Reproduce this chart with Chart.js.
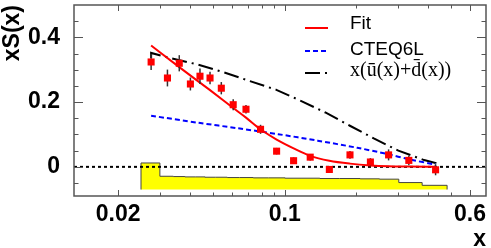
<!DOCTYPE html>
<html>
<head>
<meta charset="utf-8">
<script src="https://cdn.jsdelivr.net/npm/chart.js@4.4.1/dist/chart.umd.min.js"></script>
<style>
html, body { margin: 0; padding: 0; background: #fff; }
#wrap { width: 491px; height: 248px; }
</style>
</head>
<body>
<div id="wrap"><canvas id="chart" width="491" height="248"></canvas></div>
<script>
// axis ranges and ticks
const xMin = 0.01305, xMax = 0.70;
const yMin = -0.09, yMax = 0.5;
const xTickValues = [0.02, 0.1, 0.6];
const xTickLabels = ['0.02', '0.1', '0.6'];
const xMinorTicks = [0.03, 0.04, 0.05, 0.06, 0.07, 0.08, 0.09, 0.2, 0.3, 0.4, 0.5];
const yTickValues = [0, 0.2, 0.4];
const yTickLabels = ['0', '0.2', '0.4'];
const yMinorTicks = [-0.05, 0.05, 0.1, 0.15, 0.25, 0.3, 0.35, 0.45];

// measured points
const dataX = [0.0275, 0.0322, 0.0361, 0.0402, 0.0441, 0.0486, 0.0542, 0.0608, 0.0688, 0.0792,
               0.0925, 0.109, 0.128, 0.154, 0.188, 0.229, 0.273, 0.332, 0.43];
const dataY = [0.324, 0.2745, 0.32, 0.256, 0.28, 0.2745, 0.243, 0.192, 0.178, 0.116,
               0.0485, 0.019, 0.030, -0.008, 0.037, 0.015, 0.037, 0.020, -0.009];
const dataErr = [0.025, 0.026, 0.025, 0.02, 0.024, 0.019, 0.019, 0.017, 0.013, 0.014,
                 0.01, 0.01, 0.01, 0.01, 0.012, 0.012, 0.017, 0.015, 0.017];

// fit curve
const fitX = [0.0275, 0.0361, 0.0486, 0.0608, 0.0688, 0.0792, 0.0925, 0.109, 0.128, 0.154,
              0.188, 0.229, 0.273, 0.332, 0.43];
const fitY = [0.375, 0.308, 0.237, 0.182, 0.152, 0.116, 0.084, 0.057, 0.034, 0.019,
              0.010, 0.0045, 0.002, 0.001, 0.0];

// CTEQ6L
const cteqX = [0.0275, 0.0436, 0.0639, 0.0938, 0.1375, 0.2016, 0.2684, 0.334, 0.43];
const cteqY = [0.158, 0.136, 0.119, 0.101, 0.081, 0.059, 0.040, 0.023, 0.007];

// x(ubar + dbar)
const seaX = [0.0275, 0.0275, 0.0332, 0.0432, 0.0556, 0.0715, 0.0923, 0.1169, 0.1481,
              0.1878, 0.2366, 0.3001, 0.3849, 0.43, 0.43];
const seaY = [0.336, 0.352, 0.336, 0.316, 0.292, 0.265, 0.238, 0.204, 0.168,
              0.127, 0.088, 0.050, 0.021, 0.012, 0.003];

// systematic band
const bandEdges = [0.02494, 0.02993, 0.03408, 0.03813, 0.04212, 0.0463, 0.05131, 0.0574, 0.06467,
                   0.07381, 0.08553, 0.1004, 0.1182, 0.1405, 0.1701, 0.2074, 0.25, 0.3013, 0.3776, 0.4806];
const bandTop = [0.012, -0.029, -0.030, -0.031, -0.031, -0.032, -0.032, -0.033, -0.033, -0.034,
                 -0.034, -0.035, -0.035, -0.036, -0.036, -0.037, -0.038, -0.0485, -0.057];
const bandBottom = -0.07;

const legendLabels = ['Fit', 'CTEQ6L', 'x(u\u0304(x)+d\u0304(x))'];

const xy = (xs, ys) => xs.map((x, i) => ({ x: x, y: ys[i] }));

function bandPoints() {
    const pts = [{ x: bandEdges[0], y: bandBottom }];
    bandTop.forEach((v, i) => pts.push({ x: bandEdges[i], y: v }));
    pts.push({ x: bandEdges[bandEdges.length - 1], y: bandBottom });
    return pts;
}

const errorBars = {
    id: 'errorBars',
    beforeDatasetDraw(chart, args) {
        if (args.index !== 0) return;
        const { ctx, scales: { x, y } } = chart;
        ctx.save();
        ctx.strokeStyle = '#333';
        ctx.lineWidth = 1.5;
        dataX.forEach((v, i) => {
            const px = x.getPixelForValue(v);
            ctx.beginPath();
            ctx.moveTo(px, y.getPixelForValue(dataY[i] - dataErr[i]));
            ctx.lineTo(px, y.getPixelForValue(dataY[i] + dataErr[i]));
            ctx.stroke();
        });
        ctx.restore();
    }
};

const frameTicks = {
    id: 'frameTicks',
    afterDatasetsDraw(chart) {
        const { ctx, chartArea: a, scales: { x, y } } = chart;
        ctx.save();
        ctx.strokeStyle = '#555';
        ctx.lineWidth = 1;
        const yTick = (v, len) => {
            const py = Math.round(y.getPixelForValue(v)) + 0.5;
            ctx.beginPath();
            ctx.moveTo(a.left, py); ctx.lineTo(a.left + len, py);
            ctx.moveTo(a.right, py); ctx.lineTo(a.right - len, py);
            ctx.stroke();
        };
        const xTick = (v, len) => {
            const px = Math.round(x.getPixelForValue(v)) + 0.5;
            ctx.beginPath();
            ctx.moveTo(px, a.bottom); ctx.lineTo(px, a.bottom - len);
            ctx.moveTo(px, a.top); ctx.lineTo(px, a.top + len);
            ctx.stroke();
        };
        yTickValues.forEach(v => yTick(v, 9));
        yMinorTicks.forEach(v => yTick(v, 4.5));
        xTickValues.forEach(v => xTick(v, 6));
        xMinorTicks.forEach(v => xTick(v, 3.5));
        ctx.lineWidth = 1.5;
        ctx.strokeRect(a.left, a.top, a.right - a.left, a.bottom - a.top);
        ctx.restore();
    }
};

const boxLegend = {
    id: 'boxLegend',
    afterDraw(chart) {
        const ctx = chart.ctx;
        const sets = [chart.data.datasets[1], chart.data.datasets[2], chart.data.datasets[3]];
        const rows = [24, 49.5, 71];
        const lineY = [28, 51, 73];
        const fonts = ['19px "Liberation Sans", Arial, sans-serif',
                       '19px "Liberation Sans", Arial, sans-serif',
                       '20px "Liberation Serif", "Times New Roman", serif'];
        ctx.save();
        sets.forEach((ds, i) => {
            ctx.strokeStyle = ds.borderColor;
            ctx.lineWidth = ds.borderWidth;
            ctx.setLineDash(ds.borderDash || []);
            ctx.beginPath();
            ctx.moveTo(305, lineY[i]);
            ctx.lineTo(328, lineY[i]);
            ctx.stroke();
            ctx.setLineDash([]);
            ctx.fillStyle = '#000';
            ctx.font = fonts[i];
            ctx.textBaseline = 'middle';
            ctx.textAlign = 'left';
            ctx.fillText(legendLabels[i], 350, rows[i]);
        });
        ctx.restore();
    }
};

new Chart(document.getElementById('chart'), {
    type: 'line',
    data: {
        datasets: [
            {
                label: 'Data',
                data: xy(dataX, dataY),
                showLine: false,
                pointStyle: 'rect',
                pointRadius: 5,
                backgroundColor: '#ff0000',
                borderColor: '#ff0000',
                borderWidth: 0,
                order: 0
            },
            {
                label: legendLabels[0],
                data: xy(fitX, fitY),
                borderColor: '#ff0000',
                borderWidth: 2,
                pointRadius: 0,
                cubicInterpolationMode: 'monotone',
                order: 1
            },
            {
                label: legendLabels[1],
                data: xy(cteqX, cteqY),
                borderColor: '#0000ff',
                borderWidth: 2,
                borderDash: [5, 3],
                pointRadius: 0,
                tension: 0.3,
                order: 2
            },
            {
                label: legendLabels[2],
                data: xy(seaX, seaY),
                borderColor: '#000',
                borderWidth: 2,
                borderDash: [15, 5, 2, 5],
                pointRadius: 0,
                tension: 0,
                order: 3
            },
            {
                label: 'zero',
                data: [{ x: xMin, y: 0 }, { x: xMax, y: 0 }],
                borderColor: '#000',
                borderWidth: 2,
                borderDash: [3, 3],
                pointRadius: 0,
                order: 4
            },
            {
                label: 'sys',
                data: bandPoints(),
                stepped: 'before',
                borderColor: '#444',
                borderWidth: 1,
                backgroundColor: '#ffff00',
                fill: { value: bandBottom },
                pointRadius: 0,
                order: 5
            }
        ]
    },
    options: {
        responsive: false,
        animation: false,
        events: [],
        layout: { padding: { top: 2, right: 1, left: 0, bottom: 0 } },
        plugins: {
            legend: { display: false },
            tooltip: { enabled: false }
        },
        scales: {
            x: {
                type: 'logarithmic',
                min: xMin,
                max: xMax,
                grid: { display: false, drawTicks: false },
                border: { display: false },
                afterBuildTicks: s => { s.ticks = xTickValues.map(v => ({ value: v })); },
                afterFit: s => { s.height = 52; s.paddingLeft = 0; s.paddingRight = 0; },
                ticks: {
                    autoSkip: false,
                    maxRotation: 0,
                    padding: 5,
                    color: '#000',
                    font: { family: '"Liberation Sans", Arial, sans-serif', size: 23, weight: 'bold' },
                    callback: v => xTickLabels[xTickValues.indexOf(v)]
                },
                title: {
                    display: true,
                    text: 'x',
                    align: 'end',
                    color: '#000',
                    padding: 0,
                    font: { family: '"Liberation Sans", Arial, sans-serif', size: 23, weight: 'bold', lineHeight: 0.75 }
                }
            },
            y: {
                min: yMin,
                max: yMax,
                grid: { display: false, drawTicks: false },
                border: { display: false },
                afterBuildTicks: s => { s.ticks = yTickValues.map(v => ({ value: v })); },
                afterFit: s => { s.width = 74; s.paddingTop = 0; s.paddingBottom = 0; },
                ticks: {
                    padding: 14,
                    color: '#000',
                    font: { family: '"Liberation Sans", Arial, sans-serif', size: 23, weight: 'bold' },
                    callback: v => yTickLabels[yTickValues.indexOf(v)]
                },
                title: {
                    display: true,
                    text: 'xS(x)',
                    align: 'end',
                    color: '#000',
                    padding: 1,
                    font: { family: '"Liberation Sans", Arial, sans-serif', size: 23, weight: 'bold', lineHeight: 1 }
                }
            }
        }
    },
    plugins: [errorBars, frameTicks, boxLegend]
});
</script>
</body>
</html>
